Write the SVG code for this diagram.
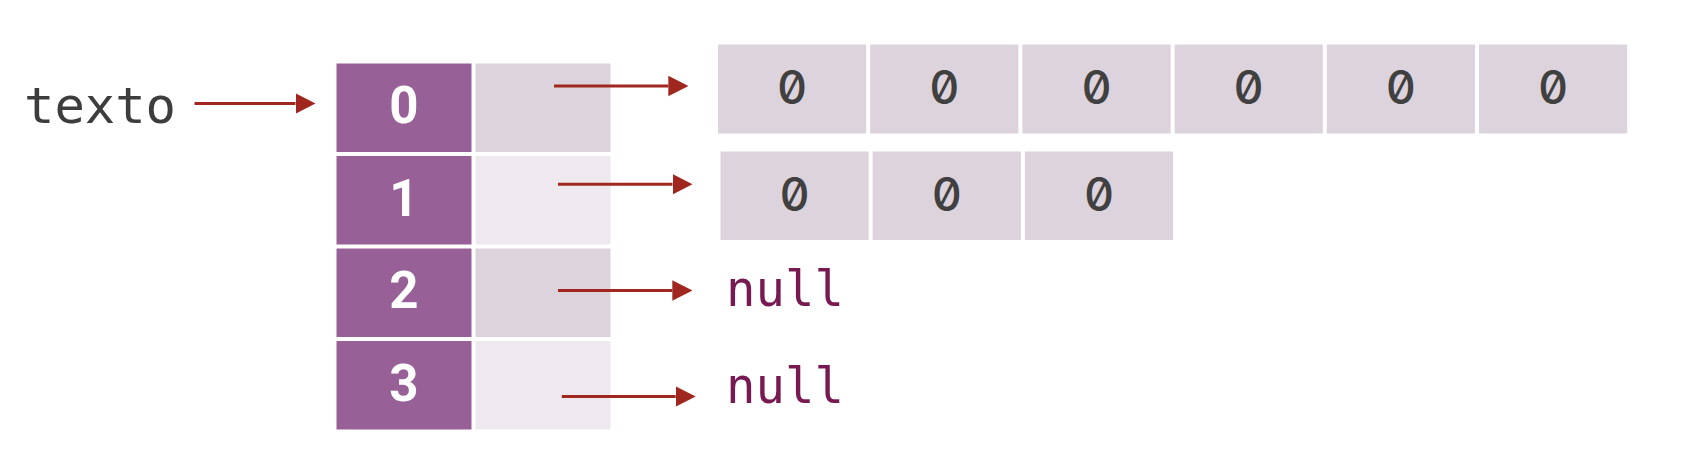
<svg xmlns="http://www.w3.org/2000/svg" width="1686" height="462" viewBox="0 0 1686 462">
  <defs>
    <marker id="ah" markerUnits="userSpaceOnUse" markerWidth="20" markerHeight="21" refX="0" refY="10.25" orient="auto">
      <path d="M0,0 L20,10.25 L0,20.5 Z" fill="#a0271f"/>
    </marker>
  </defs>
  <style>
    .idx { fill: #976198; }
    .ptrA { fill: #ddd3dd; }
    .ptrB { fill: #eee9ef; }
    .cell { fill: #ddd3dd; }
    .idxt { font-family: Roboto, "Liberation Sans", sans-serif; font-weight: 700; font-size: 51px; fill: #ffffff; text-anchor: middle; }
    .zero { font-family: Inter, "Noto Sans", sans-serif; font-feature-settings: "zero" 1; font-weight: 500; font-size: 46px; fill: #404040; text-anchor: middle; }
    .mono { font-family: "DejaVu Sans Mono", "Liberation Mono", monospace; }
    .null { font-size: 49px; fill: #771a52; }
    .conn line { stroke: #a0271f; stroke-width: 3; marker-end: url(#ah); }
  </style>
  <rect width="1686" height="462" fill="#ffffff"/>

  <g id="texto">
    <text class="mono" x="24" y="123" font-size="50.5" fill="#3d3d3d">texto</text>
  </g>

  <g id="row0">
    <rect class="idx" x="336.5" y="63.5" width="135" height="88.5"/>
    <rect class="ptrA" x="475.5" y="63.5" width="135" height="88.5"/>
    <text class="idxt" x="404" y="123.3">0</text>
  </g>
  <g id="row1">
    <rect class="idx" x="336.5" y="156" width="135" height="88.5"/>
    <rect class="ptrB" x="475.5" y="156" width="135" height="88.5"/>
    <text class="idxt" x="404" y="215.8">1</text>
  </g>
  <g id="row2">
    <rect class="idx" x="336.5" y="248.5" width="135" height="88.5"/>
    <rect class="ptrA" x="475.5" y="248.5" width="135" height="88.5"/>
    <text class="idxt" x="404" y="308.3">2</text>
  </g>
  <g id="row3">
    <rect class="idx" x="336.5" y="341" width="135" height="88.5"/>
    <rect class="ptrB" x="475.5" y="341" width="135" height="88.5"/>
    <text class="idxt" x="404" y="400.8">3</text>
  </g>

  <g id="array6">
    <rect class="cell" x="718" y="44.5" width="148.2" height="89"/>
    <rect class="cell" x="870.2" y="44.5" width="148.2" height="89"/>
    <rect class="cell" x="1022.4" y="44.5" width="148.2" height="89"/>
    <rect class="cell" x="1174.6" y="44.5" width="148.2" height="89"/>
    <rect class="cell" x="1326.8" y="44.5" width="148.2" height="89"/>
    <rect class="cell" x="1479" y="44.5" width="148.2" height="89"/>
    <text class="zero" x="792.1" y="104">0</text>
    <text class="zero" x="944.3" y="104">0</text>
    <text class="zero" x="1096.5" y="104">0</text>
    <text class="zero" x="1248.7" y="104">0</text>
    <text class="zero" x="1400.9" y="104">0</text>
    <text class="zero" x="1553.1" y="104">0</text>
  </g>

  <g id="array3">
    <rect class="cell" x="720.5" y="151.5" width="148.2" height="88.5"/>
    <rect class="cell" x="872.7" y="151.5" width="148.2" height="88.5"/>
    <rect class="cell" x="1024.9" y="151.5" width="148.2" height="88.5"/>
    <text class="zero" x="794.6" y="211">0</text>
    <text class="zero" x="946.8" y="211">0</text>
    <text class="zero" x="1099" y="211">0</text>
  </g>

  <g id="null2">
    <text class="mono null" x="726" y="306">null</text>
  </g>
  <g id="null3">
    <text class="mono null" x="726" y="403.3">null</text>
  </g>

  <g id="connectors" class="conn">
    <line x1="194.5" y1="103.5" x2="295.5" y2="103.5"/>
    <line x1="554" y1="86" x2="668.3" y2="86"/>
    <line x1="558" y1="184.3" x2="672.5" y2="184.3"/>
    <line x1="558" y1="290.5" x2="672.3" y2="290.5"/>
    <line x1="561.8" y1="396.5" x2="675.7" y2="396.5"/>
  </g>
</svg>
